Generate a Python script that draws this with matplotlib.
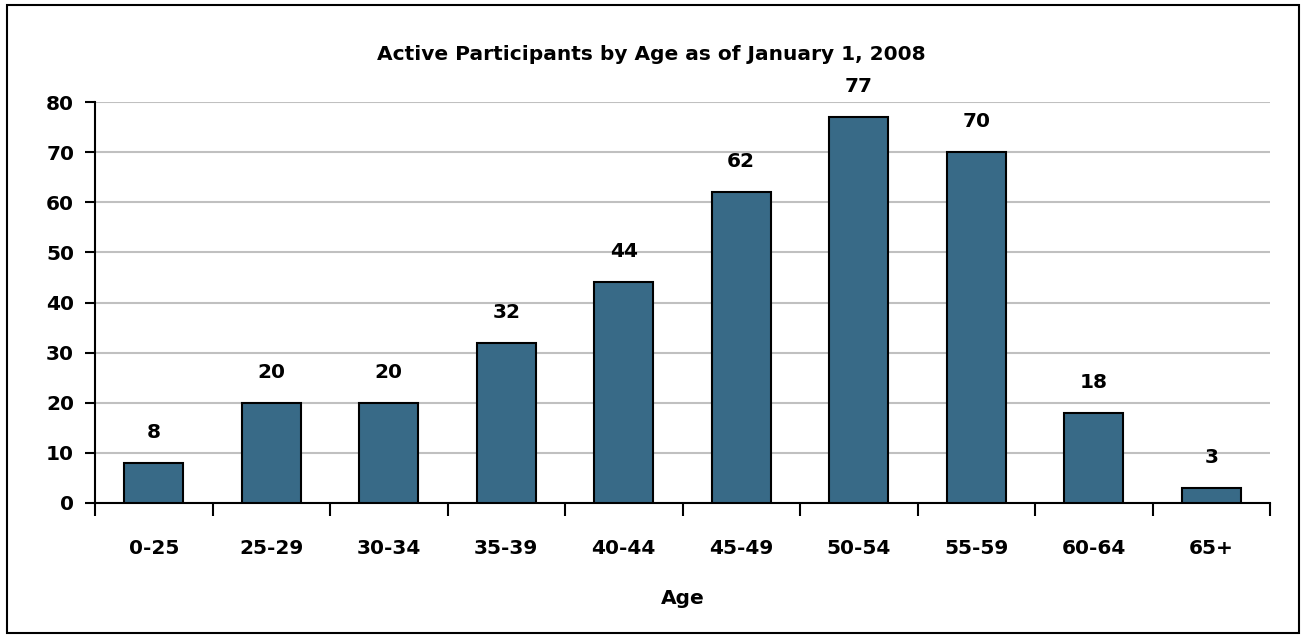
import matplotlib
matplotlib.use('Agg')
import matplotlib.pyplot as plt
from matplotlib.patches import Rectangle

# Active participants per age band
age_groups = ['0-25', '25-29', '30-34', '35-39', '40-44', '45-49', '50-54', '55-59', '60-64', '65+']
participants = [8, 20, 20, 32, 44, 62, 77, 70, 18, 3]
y_ticks = [0, 10, 20, 30, 40, 50, 60, 70, 80]

plt.rcParams['font.family'] = ['DejaVu Sans']
plt.rcParams['font.weight'] = 'bold'

fs = 14.5
fig = plt.figure(figsize=(13.03, 6.36), dpi=100)
ax = fig.add_axes([95 / 1303, 133 / 636, 1175 / 1303, 401 / 636])

# outer chart frame
fig.patches.append(Rectangle((7 / 1303, 3 / 636), 1292 / 1303, 628 / 636,
                             transform=fig.transFigure, fill=False,
                             edgecolor='black', linewidth=1.5))

x = range(len(age_groups))
bars = ax.bar(x, participants, width=0.5, color='#386A87', edgecolor='black', linewidth=1.5, zorder=3)

for bar, val in zip(bars, participants):
    ax.annotate(str(val), (bar.get_x() + bar.get_width() / 2, val),
                xytext=(0, 22), textcoords='offset points',
                ha='center', va='center', fontsize=fs, fontweight='bold')

ax.set_xlim(-0.5, len(age_groups) - 0.5)
ax.set_ylim(0, 80)
ax.set_yticks(y_ticks)
ax.set_yticklabels([str(t) for t in y_ticks], fontweight='bold')
ax.set_xticks([i - 0.5 for i in range(len(age_groups) + 1)], minor=False)
ax.set_xticklabels([''] * (len(age_groups) + 1))
ax.set_xticks(list(x), minor=True)
ax.set_xticklabels(age_groups, minor=True, fontweight='bold')
ax.tick_params(axis='x', which='major', length=9, width=1.5, direction='out')
ax.tick_params(axis='x', which='minor', length=0, pad=26, labelsize=fs)
ax.tick_params(axis='y', length=7, width=1.5, direction='out', labelsize=fs, pad=8)

ax.grid(axis='y', color='#C0C0C0', linewidth=1.5, zorder=0)
ax.set_axisbelow(True)
for s in ['top', 'right']:
    ax.spines[s].set_visible(False)
ax.spines['left'].set_linewidth(1.5)
ax.spines['bottom'].set_linewidth(1.5)

ax.set_xlabel('Age', fontsize=fs, fontweight='bold', labelpad=22)
fig.text(0.5, 1 - 55 / 636, 'Active Participants by Age as of January 1, 2008',
         ha='center', va='center', fontsize=fs, fontweight='bold')

fig.savefig('out.png', dpi=100)
plt.close(fig)
